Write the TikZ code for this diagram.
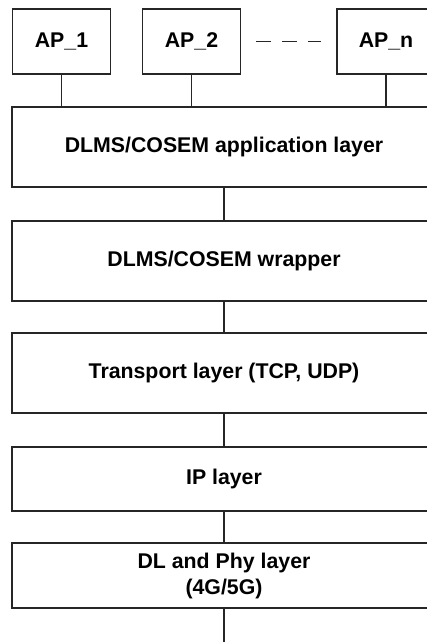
\documentclass[tikz,border=0pt]{standalone}
\usepackage{fontspec}
\setmainfont{Liberation Sans}
\begin{document}
\begin{tikzpicture}[x=1pt,y=-1pt,
  line width=1.2pt,
  box/.style={draw=black!85, inner sep=0pt, font=\fontsize{21.3}{26}\selectfont\bfseries, align=center},
  apbox/.style={box, minimum width=98pt, minimum height=65pt},
  layer/.style={box, minimum width=424pt},
  link/.style={draw=black!85}
]
\path[use as bounding box] (0,0) rectangle (427,642);
\clip (0,0) rectangle (427,642);

% application processes
\node[apbox] (ap1) at (61.5,41.5) {AP\_1};
\node[apbox] (ap2) at (191.5,41.5) {AP\_2};
\node[apbox] (apn) at (386,41.5) {AP\_n};
\draw[link, dash pattern=on 15pt off 11pt] ([xshift=15pt]ap2.east) -- ([xshift=-15pt]apn.west);

% protocol stack
\node[layer, minimum height=80pt] (app)   at (224,147)   {DLMS/COSEM application layer};
\node[layer, minimum height=80pt] (wrap)  at (224,261)   {DLMS/COSEM wrapper};
\node[layer, minimum height=80pt] (trans) at (224,373)   {Transport layer (TCP, UDP)};
\node[layer, minimum height=64pt] (ip)    at (224,479)   {IP layer};
\node[layer, minimum height=65pt] (dl)    at (224,575.5) {DL and Phy layer\\(4G/5G)};
\coordinate (medium) at (224,650);

% connections
\draw[link] (ap1.south) -- (ap1.south |- app.north);
\draw[link] (ap2.south) -- (ap2.south |- app.north);
\draw[link] (apn.south) -- (apn.south |- app.north);
\draw[link] (app.south) -- (wrap.north);
\draw[link] (wrap.south) -- (trans.north);
\draw[link] (trans.south) -- (ip.north);
\draw[link] (ip.south) -- (dl.north);
\draw[link] (dl.south) -- (medium);
\end{tikzpicture}
\end{document}
